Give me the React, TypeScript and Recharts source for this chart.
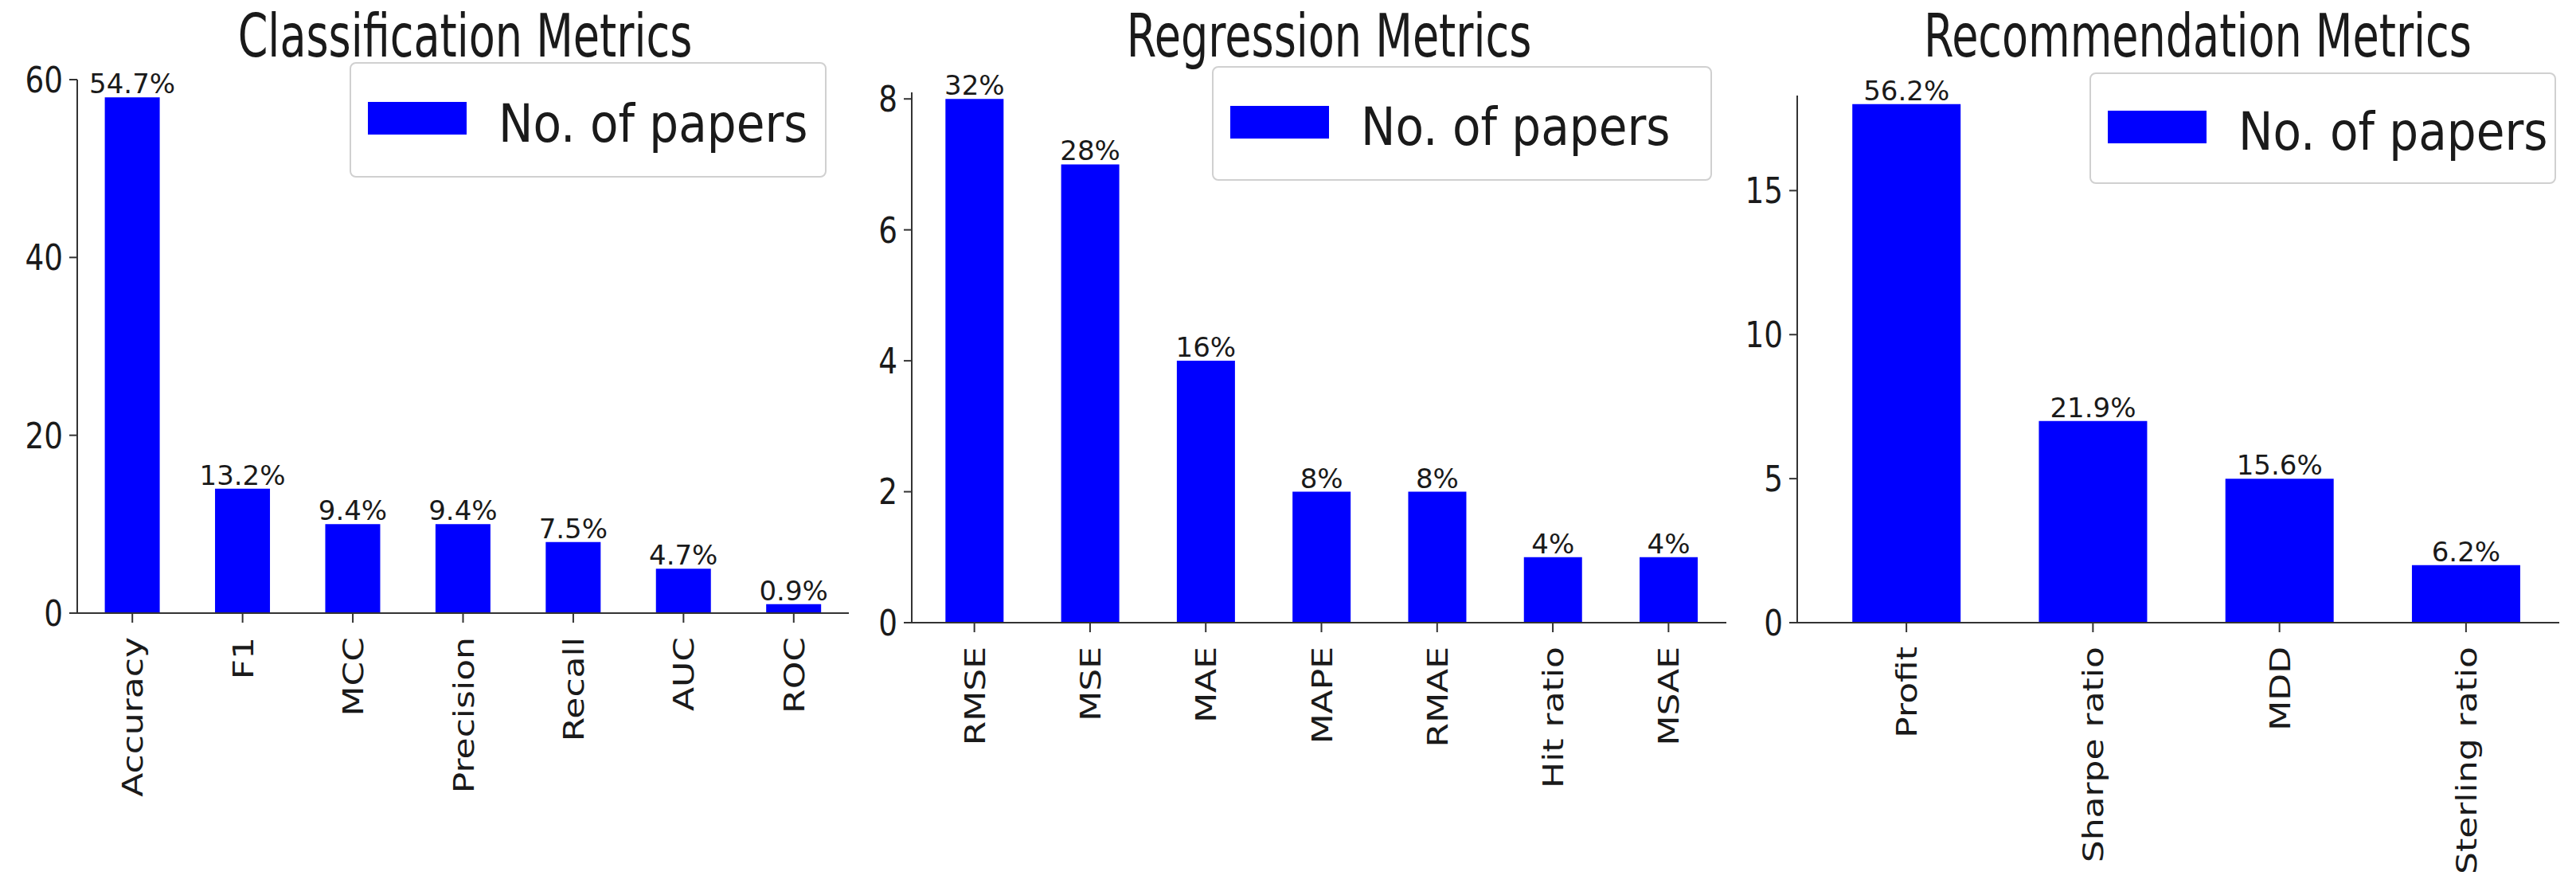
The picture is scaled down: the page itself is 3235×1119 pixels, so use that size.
import React from "react";
import { BarChart, Bar, XAxis, YAxis, LabelList, Legend } from "recharts";

const FONT = "'DejaVu Sans', sans-serif";
const BLUE = "#0000ff";
const AXIS = "#333333";
const TEXT = "#1a1a1a";
const HEIGHT = 1119;

// Classification panel
const classLabels = ["Accuracy", "F1", "MCC", "Precision", "Recall", "AUC", "ROC"];
const classCounts = [58, 14, 10, 10, 8, 5, 1];
const classPercents = ["54.7%", "13.2%", "9.4%", "9.4%", "7.5%", "4.7%", "0.9%"];
const classTicks = [0, 20, 40, 60];

// Regression panel
const regLabels = ["RMSE", "MSE", "MAE", "MAPE", "RMAE", "Hit ratio", "MSAE"];
const regCounts = [8, 7, 4, 2, 2, 1, 1];
const regPercents = ["32%", "28%", "16%", "8%", "8%", "4%", "4%"];
const regTicks = [0, 2, 4, 6, 8];

// Recommendation panel
const recLabels = ["Profit", "Sharpe ratio", "MDD", "Sterling ratio"];
const recCounts = [18, 7, 5, 2];
const recPercents = ["56.2%", "21.9%", "15.6%", "6.2%"];
const recTicks = [0, 5, 10, 15];

const seriesName = "No. of papers";

function makeRows(labels: string[], counts: number[], percents: string[]) {
  return labels.map((name, i) => ({ name, count: counts[i], pct: percents[i] }));
}

function YTick(props: any) {
  const { x, y, payload } = props;
  return (
    <g transform={`translate(${x},${y}) scale(0.85,1)`}>
      <text x={0} y={0} dy="0.36em" textAnchor="end" fontSize={44} fill={TEXT} fontFamily={FONT}>
        {payload.value}
      </text>
    </g>
  );
}

function XTick(props: any) {
  const { x, y, payload } = props;
  return (
    <g transform={`translate(${x},${y}) scale(0.82,1)`}>
      <text transform="rotate(-90)" textAnchor="end" dy="0.36em" fontSize={44} fill={TEXT} fontFamily={FONT}>
        {payload.value}
      </text>
    </g>
  );
}

function LegendBox({ width, height }: { width: number; height: number }) {
  return (
    <div
      style={{
        boxSizing: "border-box",
        width,
        height,
        border: "2px solid #d0d0d0",
        borderRadius: 8,
        background: "#fff",
        display: "flex",
        alignItems: "center",
        paddingLeft: 21,
        fontFamily: FONT,
      }}
    >
      <div style={{ width: 124, height: 41, background: BLUE, flex: "none", marginTop: -4 }} />
      <span
        style={{
          display: "inline-block",
          marginLeft: 40,
          marginTop: 10,
          fontSize: 66,
          color: TEXT,
          whiteSpace: "nowrap",
          lineHeight: 1,
          transform: "scaleX(0.88)",
          transformOrigin: "left center",
        }}
      >
        {seriesName}
      </span>
    </div>
  );
}

type PanelProps = {
  left: number;
  width: number;
  title: string;
  titleX: number;
  rows: Array<{ name: string; count: number; pct: string }>;
  ticks: number[];
  yMax: number;
  plotTop: number;
  baseline: number;
  yAxisWidth: number;
  rightGap: number;
  padLeft: number;
  gap: string;
  legend: { left: number; top: number; width: number; height: number };
};

function MetricPanel(p: PanelProps) {
  return (
    <div style={{ position: "absolute", left: p.left, top: 0, width: p.width, height: HEIGHT }}>
      <div
        style={{
          position: "absolute",
          left: p.titleX - 500,
          width: 1000,
          top: 8,
          textAlign: "center",
          fontSize: 74,
          lineHeight: 1,
          fontFamily: FONT,
          color: TEXT,
          transform: "scaleX(0.73)",
          whiteSpace: "nowrap",
        }}
      >
        {p.title}
      </div>
      <BarChart
        width={p.width}
        height={HEIGHT}
        data={p.rows}
        margin={{ top: p.plotTop, right: p.rightGap, left: 0, bottom: 0 }}
        barCategoryGap={p.gap}
        style={{ fontFamily: FONT }}
      >
        <XAxis
          dataKey="name"
          interval={0}
          height={HEIGHT - p.baseline}
          padding={{ left: p.padLeft, right: 0 }}
          tick={<XTick />}
          tickSize={12}
          tickMargin={18}
          tickLine={{ stroke: AXIS, strokeWidth: 2 }}
          axisLine={{ stroke: AXIS, strokeWidth: 2 }}
        />
        <YAxis
          width={p.yAxisWidth}
          domain={[0, p.yMax]}
          ticks={p.ticks}
          allowDataOverflow
          tick={<YTick />}
          tickSize={10}
          tickMargin={8}
          tickLine={{ stroke: AXIS, strokeWidth: 2 }}
          axisLine={{ stroke: AXIS, strokeWidth: 2 }}
        />
        <Legend
          verticalAlign="middle"
          layout="horizontal"
          wrapperStyle={{ left: p.legend.left, top: p.legend.top, width: p.legend.width, height: p.legend.height }}
          content={() => <LegendBox width={p.legend.width} height={p.legend.height} />}
        />
        <Bar dataKey="count" name={seriesName} fill={BLUE} isAnimationActive={false}>
          <LabelList dataKey="pct" position="top" offset={5} fill={TEXT} fontSize={34} />
        </Bar>
      </BarChart>
    </div>
  );
}

export default function App() {
  return (
    <div style={{ position: "absolute", left: 0, top: 0, width: 3235, height: HEIGHT, background: "#fff", overflow: "hidden" }}>
      <MetricPanel
        left={0}
        width={1080}
        title="Classification Metrics"
        titleX={584}
        rows={makeRows(classLabels, classCounts, classPercents)}
        ticks={classTicks}
        yMax={60}
        plotTop={100}
        baseline={770}
        yAxisWidth={97}
        rightGap={14}
        padLeft={0}
        gap="25%"
        legend={{ left: 439, top: 78, width: 599, height: 145 }}
      />
      <MetricPanel
        left={1080}
        width={1100}
        title="Regression Metrics"
        titleX={589}
        rows={makeRows(regLabels, regCounts, regPercents)}
        ticks={regTicks}
        yMax={8.1}
        plotTop={116}
        baseline={782}
        yAxisWidth={65}
        rightGap={12}
        padLeft={6}
        gap="25%"
        legend={{ left: 442, top: 83, width: 628, height: 144 }}
      />
      <MetricPanel
        left={2180}
        width={1055}
        title="Recommendation Metrics"
        titleX={580}
        rows={makeRows(recLabels, recCounts, recPercents)}
        ticks={recTicks}
        yMax={18.3}
        plotTop={120}
        baseline={782}
        yAxisWidth={77}
        rightGap={21}
        padLeft={20}
        gap="21%"
        legend={{ left: 444, top: 91, width: 586, height: 140 }}
      />
    </div>
  );
}
